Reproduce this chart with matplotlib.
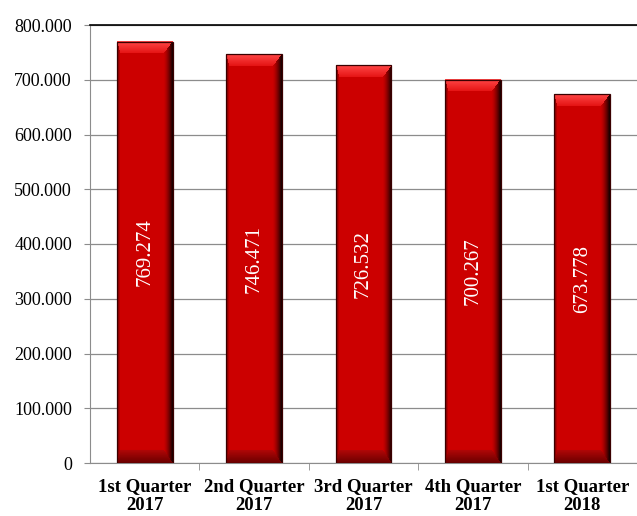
import numpy as np
import matplotlib.pyplot as plt
from matplotlib.ticker import FuncFormatter, MultipleLocator

quarters = ['1st Quarter\n2017', '2nd Quarter\n2017', '3rd Quarter\n2017',
            '4th Quarter\n2017', '1st Quarter\n2018']
values = [769274, 746471, 726532, 700267, 673778]
value_labels = ['769.274', '746.471', '726.532', '700.267', '673.778']

plt.rcParams['font.family'] = ['Liberation Serif', 'DejaVu Serif']

fig = plt.figure(figsize=(6.37, 5.16), dpi=100)
ax = fig.add_axes([90 / 637, 1 - 463 / 516, 547 / 637, 438 / 516])
ax.set_xlim(-0.5, len(values) - 0.5)
ax.set_ylim(0, 800000)

# grid
ax.yaxis.set_major_locator(MultipleLocator(100000))
ax.grid(axis='y', color='#8c8c8c', lw=0.9, zorder=0)
ax.set_axisbelow(True)
ax.spines['right'].set_visible(False)
ax.spines['top'].set_color('black')
ax.spines['top'].set_linewidth(1.2)
ax.spines['left'].set_color('#8c8c8c')
ax.spines['bottom'].set_color('#8c8c8c')

ax.yaxis.set_major_formatter(FuncFormatter(
    lambda v, p: '0' if v == 0 else '{:,.0f}'.format(v / 1000).replace(',', '.') + '.000'))
ax.tick_params(axis='y', direction='out', length=4, color='#8c8c8c',
               labelsize=13, pad=9)

x = np.arange(len(values))
ax.set_xticks(x)
ax.set_xticklabels(quarters, fontweight='bold', fontsize=13.5, linespacing=1.15)
ax.set_xticks(np.arange(len(values) - 1) + 0.5, minor=True)
ax.tick_params(axis='x', which='major', length=0, pad=11)
ax.tick_params(axis='x', which='minor', direction='out', length=5, color='#8c8c8c')

width = 0.51


def bevel_image(w, h):
    # beveled red fill: light top, dark right, darker bottom
    base = np.array([204, 0, 0], float)
    img = np.tile(base, (h, w, 1))
    bt, bb, bl, br = 12.0, 13.0, 3.0, 9.0
    ii, jj = np.mgrid[0:h, 0:w]
    d = np.stack([ii / bt, (h - 1 - ii) / bb, jj / bl, (w - 1 - jj) / br])
    side = d.argmin(axis=0)
    t = np.clip(d.min(axis=0), 0, 1)[..., None]
    top = np.array([255, 70, 70]) * (1 - t) + np.array([228, 18, 18]) * t
    bottom = np.array([110, 0, 0]) * (1 - t) + np.array([180, 8, 8]) * t
    left = np.array([120, 0, 0]) * (1 - t) + base * t
    right = np.array([25, 0, 0]) * (1 - t) ** 1.5 + base * (1 - (1 - t) ** 1.5)
    inner = t >= 1
    for k, col in enumerate([top, bottom, left, right]):
        m = (side == k)[..., None] & ~inner
        img = np.where(m, col, img)
    return img.astype(np.uint8)


fig.canvas.draw()
for xi, v, lab in zip(x, values, value_labels):
    ax.bar(xi, v, width=width, color='none', edgecolor='#3a0000', lw=0.9, zorder=4)
    p0 = ax.transData.transform((xi - width / 2, 0))
    p1 = ax.transData.transform((xi + width / 2, v))
    w_px = int(round(p1[0] - p0[0]))
    h_px = int(round(p1[1] - p0[1]))
    ax.imshow(bevel_image(w_px, h_px), extent=(xi - width / 2, xi + width / 2, 0, v),
              aspect='auto', interpolation='bilinear', zorder=3)
    ax.text(xi, v / 2, lab, rotation=90, ha='center', va='center',
            color='white', fontsize=15, zorder=5)

ax.set_xlim(-0.5, len(values) - 0.5)
ax.set_ylim(0, 800000)

fig.savefig('out.png', dpi=100)
